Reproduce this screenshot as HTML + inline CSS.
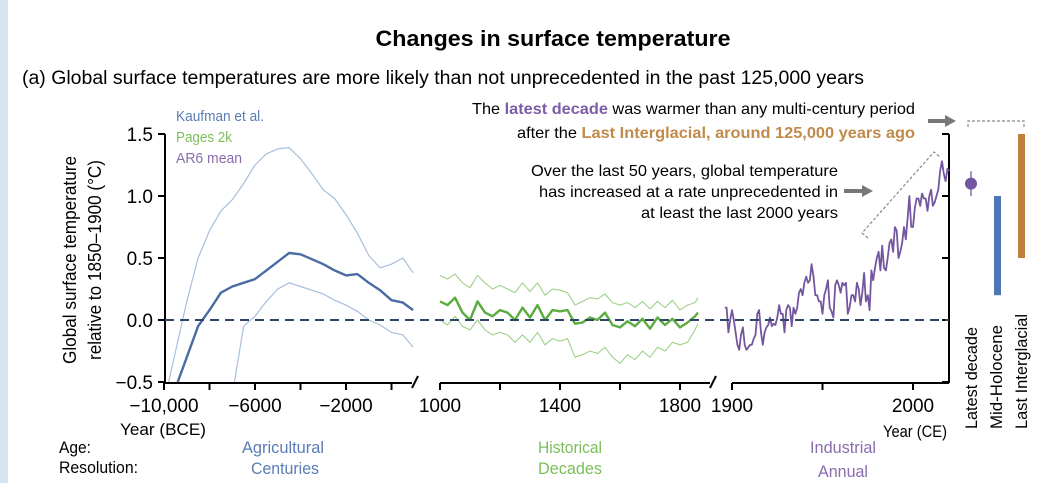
<!DOCTYPE html>
<html><head><meta charset="utf-8"><style>
html,body{margin:0;padding:0;background:#fff}
svg{display:block;font-family:"Liberation Sans",Arial,sans-serif}
</style></head><body>
<svg id="chart" width="1055" height="483" viewBox="0 0 1055 483" xmlns="http://www.w3.org/2000/svg">
<rect x="0" y="0" width="1055" height="483" fill="#fff"/>
<rect x="0" y="0" width="8" height="483" fill="#d5e5f1"/>
<text x="553" y="46" text-anchor="middle" font-size="22" font-weight="bold" textLength="355" lengthAdjust="spacingAndGlyphs">Changes in surface temperature</text>
<text x="22" y="84" font-size="19" textLength="842" lengthAdjust="spacingAndGlyphs">(a) Global surface temperatures are more likely than not unprecedented in the past 125,000 years</text>

<g font-size="16">
<text x="472" y="114" textLength="443" lengthAdjust="spacingAndGlyphs">The <tspan font-weight="bold" fill="#7b5ea7">latest decade</tspan> was warmer than any multi-century period</text>
<text x="517" y="138" textLength="398" lengthAdjust="spacingAndGlyphs">after the <tspan font-weight="bold" fill="#c08a4a">Last Interglacial, around 125,000 years ago</tspan></text>
</g>
<g font-size="16">
<text x="531" y="176" textLength="307" lengthAdjust="spacingAndGlyphs">Over the last 50 years, global temperature</text>
<text x="539" y="197" textLength="299" lengthAdjust="spacingAndGlyphs">has increased at a rate unprecedented in</text>
<text x="641" y="218" textLength="197" lengthAdjust="spacingAndGlyphs">at least the last 2000 years</text>
</g>
<g fill="#777">
<polygon points="928,119 945,119 945,115 956,121 945,127 945,123 928,123"/>
<polygon points="844,189 862,189 862,185 873,191 862,197 862,193 844,193"/>
</g>
<polyline points="868,238 862,233 934,152 940,157" fill="none" stroke="#888" stroke-width="1.2" stroke-dasharray="3,2"/>
<polyline points="968,127 968,121 1024,121 1024,127" fill="none" stroke="#888" stroke-width="1.2" stroke-dasharray="3,2"/>

<g font-size="15">
<text x="176" y="121" fill="#5b7bb5" textLength="88" lengthAdjust="spacingAndGlyphs">Kaufman et al.</text>
<text x="176" y="142" fill="#7cbf5a" textLength="56" lengthAdjust="spacingAndGlyphs">Pages 2k</text>
<text x="176" y="163" fill="#8a6cae" textLength="66" lengthAdjust="spacingAndGlyphs">AR6 mean</text>
</g>

<g font-size="18" text-anchor="middle">
<text transform="translate(76,260) rotate(-90)" textLength="208" lengthAdjust="spacingAndGlyphs">Global surface temperature</text>
<text transform="translate(101,260) rotate(-90)" textLength="200" lengthAdjust="spacingAndGlyphs">relative to 1850–1900 (°C)</text>
</g>
<g id="axes"></g>
<g id="marks"></g>

<g font-size="17">
<text x="120" y="435" textLength="86" lengthAdjust="spacingAndGlyphs">Year (BCE)</text>
<text x="883" y="437" textLength="64" lengthAdjust="spacingAndGlyphs">Year (CE)</text>
</g>
<g font-size="17">
<text x="59" y="453" textLength="32" lengthAdjust="spacingAndGlyphs">Age:</text>
<text x="59" y="473" textLength="79" lengthAdjust="spacingAndGlyphs">Resolution:</text>
<g text-anchor="middle" fill="#5b7bb5"><text x="283" y="453" textLength="82" lengthAdjust="spacingAndGlyphs">Agricultural</text><text x="285" y="474" textLength="68" lengthAdjust="spacingAndGlyphs">Centuries</text></g>
<g text-anchor="middle" fill="#7cbf5a"><text x="570" y="453" textLength="64" lengthAdjust="spacingAndGlyphs">Historical</text><text x="570" y="474" textLength="64" lengthAdjust="spacingAndGlyphs">Decades</text></g>
<g text-anchor="middle" fill="#8a6cae"><text x="843" y="453" textLength="66" lengthAdjust="spacingAndGlyphs">Industrial</text><text x="843" y="477" textLength="50" lengthAdjust="spacingAndGlyphs">Annual</text></g>
</g>
<g font-size="17">
<text transform="translate(977,429) rotate(-90)" textLength="102" lengthAdjust="spacingAndGlyphs">Latest decade</text>
<text transform="translate(1002,429) rotate(-90)" textLength="104" lengthAdjust="spacingAndGlyphs">Mid-Holocene</text>
<text transform="translate(1027,429) rotate(-90)" textLength="115" lengthAdjust="spacingAndGlyphs">Last Interglacial</text>
</g>
</svg>
<script>
const yTicks = [1.5, 1.0, 0.5, 0.0, -0.5];
const yTickLabels = ["1.5", "1.0", "0.5", "0.0", "\u22120.5"];
const ticksBce = [-10000, -8000, -6000, -4000, -2000, 0];
const ticksBceLabels = ["\u221210,000", "", "\u22126000", "", "\u22122000", ""];
const ticksHist = [1000, 1200, 1400, 1600, 1800];
const ticksHistLabels = ["1000", "", "1400", "", "1800"];
const ticksInd = [1900, 1950, 2000];
const ticksIndLabels = ["1900", "", "2000"];

const kaufYears = [-9400,-9000,-8500,-8000,-7500,-7000,-6500,-6000,-5500,-5000,-4500,-4000,-3500,-3000,-2500,-2000,-1500,-1000,-500,0,500,950];
const kaufMean = [-0.5,-0.3,-0.05,0.08,0.22,0.27,0.3,0.33,0.4,0.47,0.54,0.53,0.49,0.45,0.4,0.36,0.37,0.3,0.24,0.16,0.14,0.08];
const kaufUpYears = [-9800,-9000,-8500,-8000,-7500,-7000,-6500,-6000,-5500,-5000,-4500,-4000,-3500,-3000,-2500,-2000,-1500,-1000,-500,0,500,950];
const kaufUpper = [-0.5,0.15,0.5,0.72,0.88,0.97,1.1,1.25,1.34,1.38,1.39,1.3,1.18,1.05,0.98,0.85,0.7,0.52,0.42,0.45,0.5,0.38];
const kaufLoYears = [-6900,-6500,-6000,-5500,-5000,-4500,-4000,-3500,-3000,-2500,-2000,-1500,-1000,-500,0,500,950];
const kaufLower = [-0.5,-0.05,0.03,0.15,0.25,0.3,0.27,0.24,0.21,0.16,0.12,0.07,0.0,-0.04,-0.1,-0.12,-0.22];

const p2kYears = [1000,1025,1050,1075,1100,1125,1150,1175,1200,1225,1250,1275,1300,1325,1350,1375,1400,1425,1450,1475,1500,1525,1550,1575,1600,1625,1650,1675,1700,1725,1750,1775,1800,1825,1850,1860];
const p2kMean = [0.15,0.12,0.18,0.06,0.0,0.15,0.06,0.03,0.08,0.06,0.0,0.1,0.02,0.12,0.0,0.08,0.07,0.08,-0.03,-0.02,0.02,0.0,0.06,-0.04,-0.06,-0.01,-0.05,0.01,-0.07,0.02,-0.04,0.01,-0.06,-0.02,0.03,0.06];
const p2kUpper = [0.36,0.33,0.37,0.3,0.26,0.36,0.3,0.25,0.28,0.25,0.22,0.3,0.23,0.3,0.2,0.25,0.24,0.22,0.12,0.15,0.18,0.17,0.21,0.14,0.12,0.14,0.1,0.15,0.09,0.15,0.1,0.16,0.08,0.12,0.14,0.18];
const p2kLower = [0.0,-0.04,0.03,-0.05,-0.08,0.0,-0.08,-0.12,-0.1,-0.12,-0.18,-0.12,-0.18,-0.1,-0.2,-0.15,-0.17,-0.15,-0.3,-0.28,-0.25,-0.27,-0.22,-0.3,-0.35,-0.28,-0.32,-0.25,-0.3,-0.22,-0.25,-0.18,-0.2,-0.18,-0.08,-0.03];

const indYears = [];
for (let y = 1896; y <= 2020; y++) indYears.push(y);
const indTemps = [0.1,0.1,-0.1,0.0,0.08,0.0,-0.1,-0.2,-0.24,-0.12,-0.06,-0.2,-0.24,-0.22,-0.2,-0.2,-0.15,-0.12,0.05,0.08,-0.1,-0.2,-0.1,-0.06,-0.04,0.02,-0.05,-0.03,-0.04,0.02,0.12,0.05,0.05,-0.1,0.08,0.12,0.1,-0.05,0.1,0.05,0.1,0.22,0.25,0.2,0.3,0.35,0.3,0.32,0.45,0.35,0.2,0.2,0.15,0.15,0.05,0.2,0.25,0.32,0.1,0.07,0.02,0.28,0.32,0.28,0.22,0.3,0.28,0.3,0.05,0.1,0.2,0.2,0.15,0.3,0.25,0.12,0.22,0.38,0.15,0.2,0.08,0.4,0.32,0.42,0.5,0.55,0.4,0.6,0.42,0.4,0.5,0.62,0.65,0.55,0.75,0.72,0.5,0.55,0.62,0.75,0.65,0.82,1.0,0.75,0.75,0.9,0.98,0.98,0.92,1.02,0.98,0.98,0.88,1.0,1.05,0.92,0.95,1.0,1.05,1.2,1.28,1.18,1.12,1.22,1.2];

const latestDecade = [1.1, 1.0, 1.2];
const midHolocene = [0.2, 1.0];
const lastInterglacial = [0.5, 1.5];

const yScale = v => 320 - 124 * v;
const xBce = yr => 164 + (yr + 10000) * 91 / 4000;
const xHist = yr => 440 + (yr - 1000) * 120 / 400;
const xInd = yr => 732 + (yr - 1900) * 1.81;

const NS = "http://www.w3.org/2000/svg";
const axes = document.getElementById("axes");
const marks = document.getElementById("marks");
function mk(tag, attrs, parent) {
  const e = document.createElementNS(NS, tag);
  for (const k in attrs) e.setAttribute(k, attrs[k]);
  parent.appendChild(e);
  return e;
}
function path(xs, ys, xf) {
  return xs.map((x, i) => (i ? "L" : "M") + xf(x).toFixed(1) + "," + yScale(ys[i]).toFixed(1)).join("");
}

let yl = mk("line", {x1:165, x2:165, y1:yScale(1.5), y2:yScale(-0.5)+1, stroke:"#000", "stroke-width":2}, axes);


yTicks.forEach((v, i) => {
  const t = mk("line", {x1:158, x2:165, y1:yScale(v), y2:yScale(v), stroke:"#000", "stroke-width":2}, axes);
  
  
  const l = mk("text", {x:153, y:yScale(v)+7, "text-anchor":"end", "font-size":19}, axes);
  l.textContent = yTickLabels[i];
  
  
});
let yr = mk("line", {x1:949, x2:949, y1:yScale(1.5), y2:yScale(-0.5)+1, stroke:"#000", "stroke-width":2}, axes);


yTicks.forEach(v => {
  const t = mk("line", {x1:942, x2:949, y1:yScale(v), y2:yScale(v), stroke:"#000", "stroke-width":2}, axes);
  
  
});
function xAxis(x0, x1, ticks, labels, xf, name) {
  const a = mk("line", {x1:x0, x2:x1, y1:383, y2:383, stroke:"#000", "stroke-width":2}, axes);
  
  
  ticks.forEach((v, i) => {
    const t = mk("line", {x1:xf(v), x2:xf(v), y1:383, y2:390, stroke:"#000", "stroke-width":2}, axes);
    
    
    if (labels[i]) {
      const l = mk("text", {x:xf(v), y:412, "text-anchor":"middle", "font-size":19}, axes);
      l.textContent = labels[i];
      
      
    }
  });
}
xAxis(164, 412, ticksBce, ticksBceLabels, xBce, 'x-axis-bce');
xAxis(440, 710, ticksHist, ticksHistLabels, xHist, 'x-axis-historical');
xAxis(732, 949, ticksInd, ticksIndLabels, xInd, 'x-axis-industrial');
[[412,388,418,376],[710,388,716,376]].forEach(b => {
  const br = mk("line", {x1:b[0], y1:b[1], x2:b[2], y2:b[3], stroke:"#000", "stroke-width":2}, axes);
  
  
});

function series(xs, ys, xf, color, w, name) {
  const p = mk("path", {d:path(xs, ys, xf), fill:"none", stroke:color, "stroke-width":w, "stroke-linejoin":"round"}, marks);
  
  
}
series(kaufUpYears, kaufUpper, xBce, "#a9bedd", 1.2, 'kaufman-upper');
series(kaufLoYears, kaufLower, xBce, "#a9bedd", 1.2, 'kaufman-lower');
series(kaufYears, kaufMean, xBce, "#4a6ca3", 2.4, 'kaufman-mean');
series(p2kYears, p2kUpper, xHist, "#9fd08a", 1.1, 'pages2k-upper');
series(p2kYears, p2kLower, xHist, "#9fd08a", 1.1, 'pages2k-lower');
series(p2kYears, p2kMean, xHist, "#5aac3e", 2.4, 'pages2k-mean');
series(indYears, indTemps, xInd, "#7456a0", 1.8, 'ar6-annual');

const zl = mk("line", {x1:165, x2:949, y1:yScale(0), y2:yScale(0), stroke:"#2e4468", "stroke-width":2, "stroke-dasharray":"9,6"}, marks);



const eb = mk("line", {x1:971, x2:971, y1:yScale(latestDecade[2]), y2:yScale(latestDecade[1]), stroke:"#8a6cae", "stroke-width":1.5}, marks);


const dot = mk("circle", {cx:971, cy:yScale(latestDecade[0]), r:6, fill:"#7456a0"}, marks);


const mh = mk("rect", {x:994, width:7, y:yScale(midHolocene[1]), height:yScale(midHolocene[0]) - yScale(midHolocene[1]), fill:"#4f76b7"}, marks);


const li = mk("rect", {x:1018, width:7, y:yScale(lastInterglacial[1]), height:yScale(lastInterglacial[0]) - yScale(lastInterglacial[1]), fill:"#c27f3b"}, marks);


</script>
</body></html>
